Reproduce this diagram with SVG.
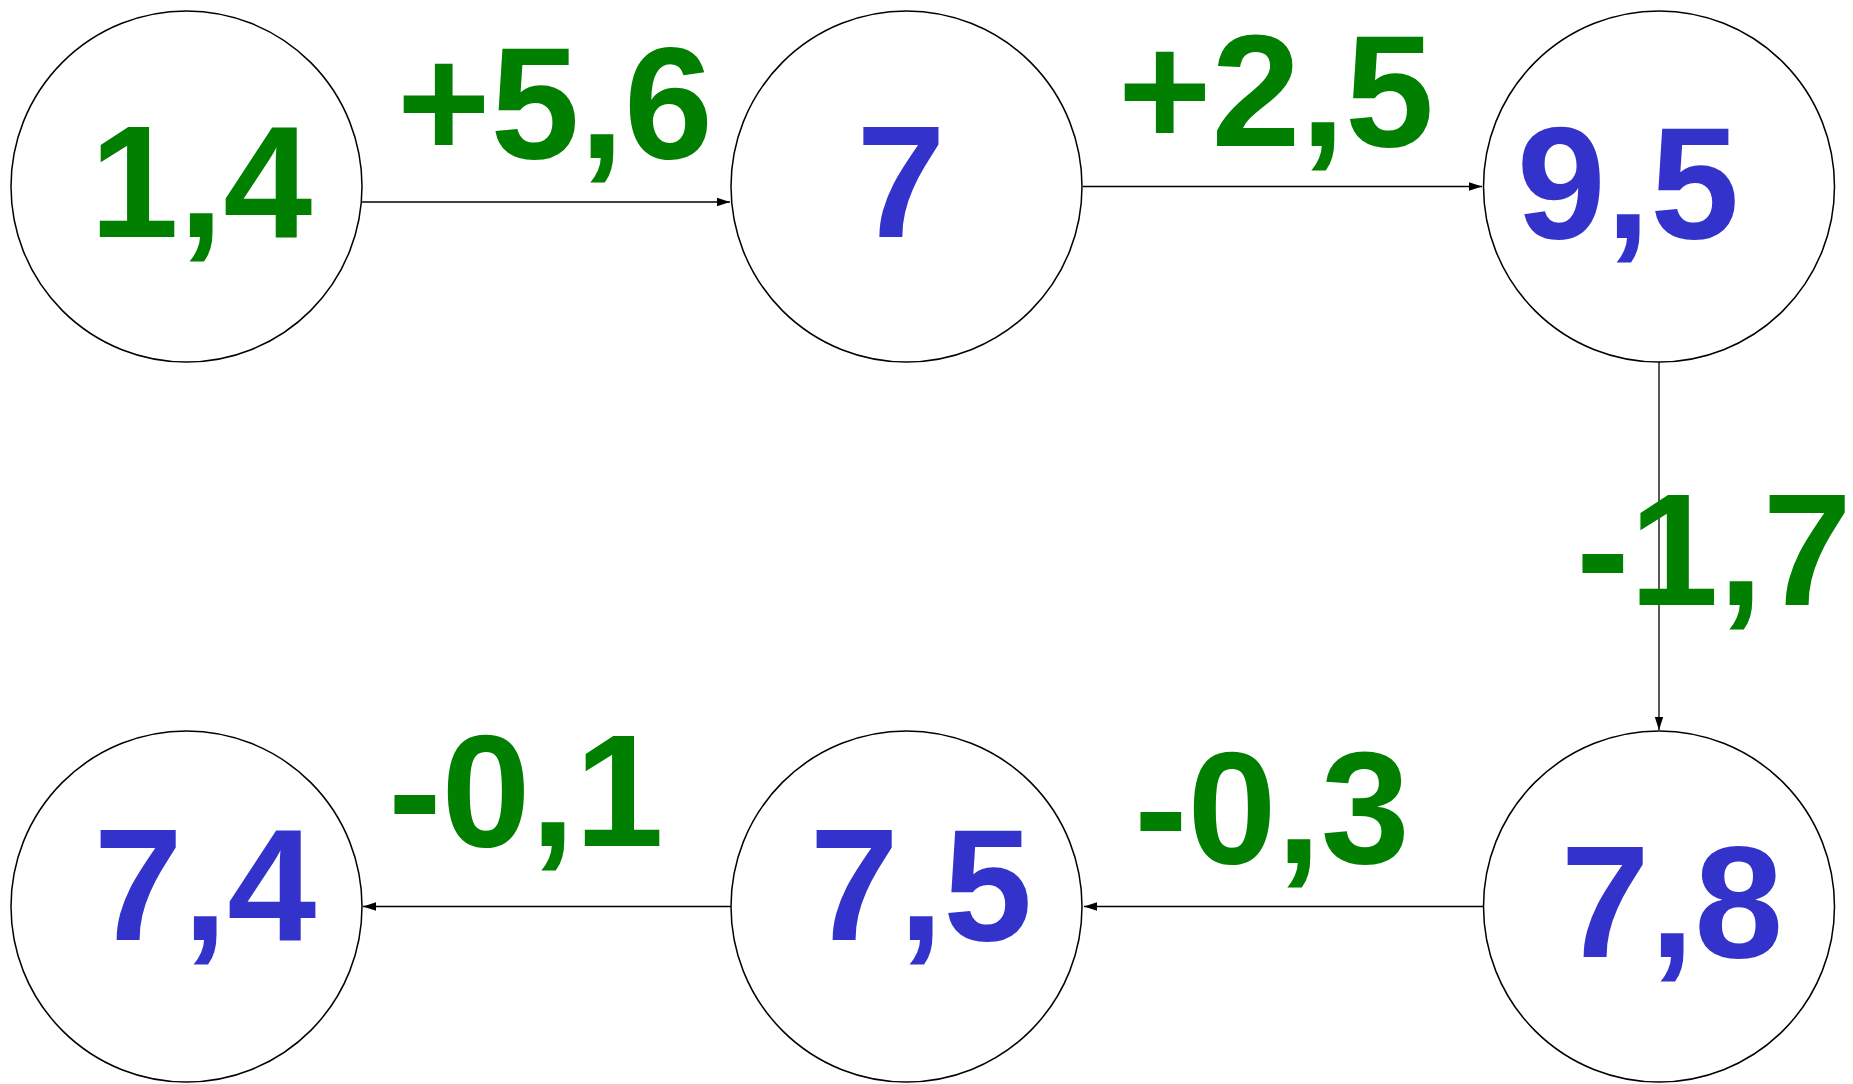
<svg xmlns="http://www.w3.org/2000/svg" width="1853" height="1084" viewBox="0 0 1853 1084">
<defs>
<style>
.node circle{fill:#ffffff;stroke:#000000;stroke-width:1.5}
.t{font-family:"Liberation Sans",Arial,sans-serif;font-weight:bold;font-size:160px;text-anchor:middle}
.g{fill:#007F00}
.b{fill:#3333CC}
.edge{stroke:#000000;stroke-width:1.3;fill:none;marker-end:url(#arr)}
</style>
<marker id="arr" markerUnits="userSpaceOnUse" markerWidth="14" markerHeight="10" refX="13" refY="5" orient="auto">
<path d="M0,0.8 L13,5 L0,9.2 Z" fill="#000000"/>
</marker>
</defs>
<rect width="1853" height="1084" fill="#ffffff"/>
<g id="connectors">
<path class="edge" d="M362,202 L730,202"/>
<path class="edge" d="M1083,186.5 L1482,186.5"/>
<path class="edge" d="M1659,362 L1659,730"/>
<path class="edge" d="M1483,906.5 L1084,906.5"/>
<path class="edge" d="M731,906.5 L363,906.5"/>
</g>
<g id="edge-labels">
<text class="t g" x="555" y="158">+5,6</text>
<text class="t g" x="1276" y="146">+2,5</text>
<text class="t g" x="1714" y="605">-1,7</text>
<text class="t g" x="1272" y="863">-0,3</text>
<text class="t g" x="526" y="846">-0,1</text>
</g>
<g id="node1" class="node"><circle cx="186.5" cy="186.5" r="175.5"/><text class="t g" x="201" y="237">1,4</text></g>
<g id="node2" class="node"><circle cx="906.5" cy="186.5" r="175.5"/><text class="t b" x="901" y="237">7</text></g>
<g id="node3" class="node"><circle cx="1659" cy="186.5" r="175.5"/><text class="t b" x="1628" y="238">9,5</text></g>
<g id="node4" class="node"><circle cx="1659" cy="906.5" r="175.5"/><text class="t b" x="1672" y="957">7,8</text></g>
<g id="node5" class="node"><circle cx="906.5" cy="906.5" r="175.5"/><text class="t b" x="921" y="940">7,5</text></g>
<g id="node6" class="node"><circle cx="186.5" cy="906.5" r="175.5"/><text class="t b" x="205" y="940">7,4</text></g>
</svg>
